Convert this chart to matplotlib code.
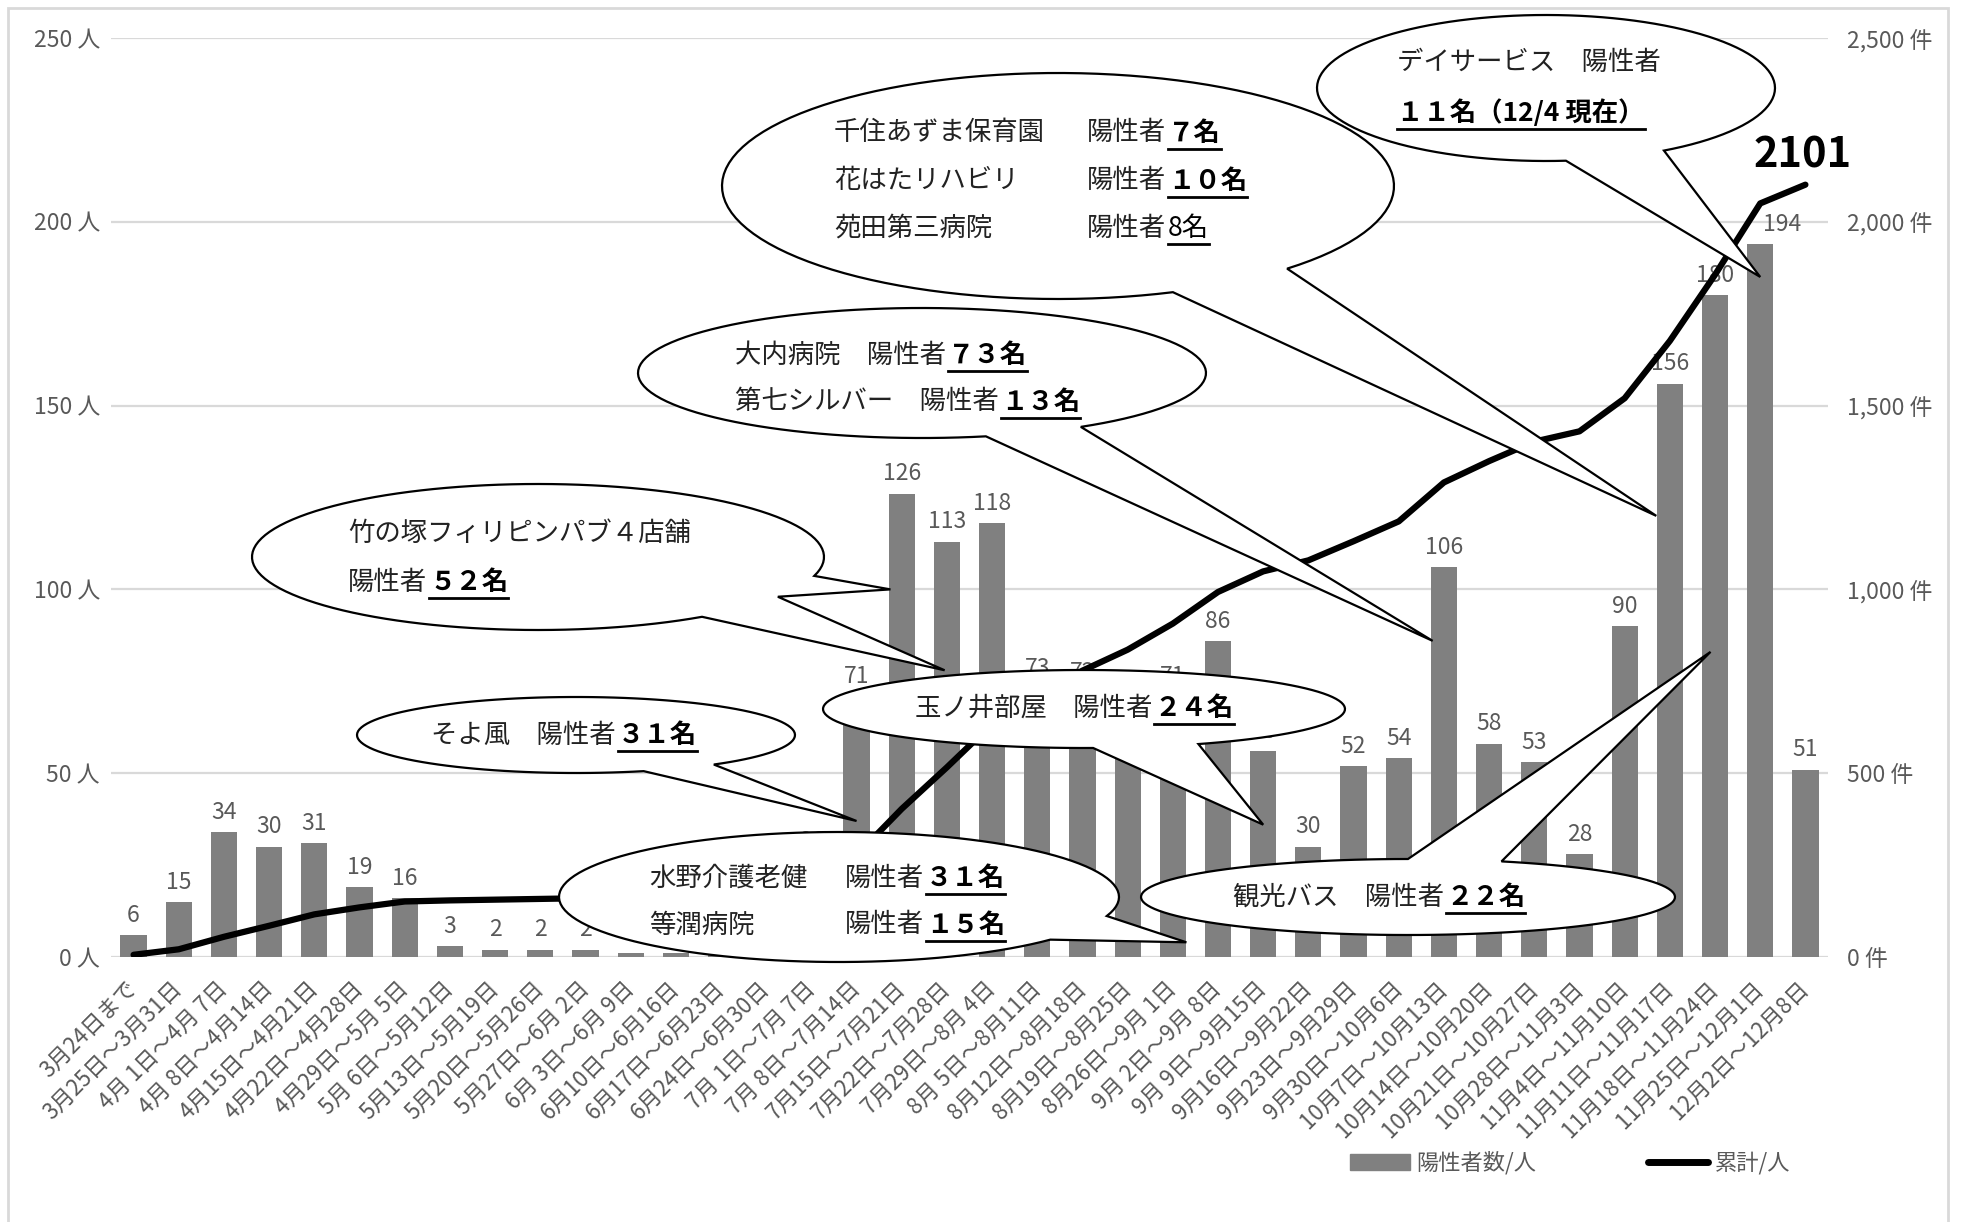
import numpy as np
import matplotlib.pyplot as plt
from matplotlib.patches import Polygon, Rectangle, Patch
from matplotlib.lines import Line2D

plt.rcParams['font.family'] = ['Noto Sans CJK JP', 'DejaVu Sans']

weeks = ['3月24日まで', '3月25日～3月31日', '4月 1日～4月 7日', '4月 8日～4月14日',
         '4月15日～4月21日', '4月22日～4月28日', '4月29日～5月 5日', '5月 6日～5月12日',
         '5月13日～5月19日', '5月20日～5月26日', '5月27日～6月 2日', '6月 3日～6月 9日',
         '6月10日～6月16日', '6月17日～6月23日', '6月24日～6月30日', '7月 1日～7月 7日',
         '7月 8日～7月14日', '7月15日～7月21日', '7月22日～7月28日', '7月29日～8月 4日',
         '8月 5日～8月11日', '8月12日～8月18日', '8月19日～8月25日', '8月26日～9月 1日',
         '9月 2日～9月 8日', '9月 9日～9月15日', '9月16日～9月22日', '9月23日～9月29日',
         '9月30日～10月6日', '10月7日～10月13日', '10月14日～10月20日', '10月21日～10月27日',
         '10月28日～11月3日', '11月4日～11月10日', '11月11日～11月17日', '11月18日～11月24日',
         '11月25日～12月1日', '12月2日～12月8日']
cases = [6, 15, 34, 30, 31, 19, 16, 3, 2, 2, 2, 1, 1, 6, 12, 26, 71, 126, 113, 118,
         73, 72, 57, 71, 86, 56, 30, 52, 54, 106, 58, 53, 28, 90, 156, 180, 194, 51]
total = [6, 21, 55, 85, 116, 135, 151, 154, 156, 158, 160, 161, 162, 168, 180, 206,
         277, 403, 516, 634, 707, 779, 836, 907, 993, 1049, 1079, 1131, 1185, 1291,
         1349, 1402, 1430, 1520, 1676, 1856, 2050, 2101]
left_ticks = [0, 50, 100, 150, 200, 250]
right_ticks = [0, 500, 1000, 1500, 2000, 2500]

GRAY = '#595959'
W, H = 1961, 1222
fig = plt.figure(figsize=(W / 100, H / 100), dpi=100)

# plot area in reference pixels
L, R, T, B = 111, 1828, 38, 957
ax = fig.add_axes([L / W, 1 - B / H, (R - L) / W, (B - T) / H])
x = np.arange(len(weeks))
ax.bar(x, cases, width=0.58, color='#808080', zorder=2)
ax.set_xlim(-0.5, len(weeks) - 0.5)
ax.set_ylim(0, 250)
ax.set_yticks(left_ticks)
ax.set_yticklabels([f'{v} 人' for v in left_ticks], color=GRAY, fontsize=16.5)
ax.yaxis.grid(True, color='#d9d9d9', lw=1.6)
ax.set_axisbelow(True)
for s in ax.spines.values():
    s.set_visible(False)
ax.tick_params(axis='y', length=0, pad=8)
ax.tick_params(axis='x', length=0, pad=20)
ax.set_xticks(x)
ax.set_xticklabels(weeks, rotation=45, ha='right', va='center', rotation_mode='anchor',
                   fontsize=16, color=GRAY)

for i, v in enumerate(cases):
    dx = 16 if i == len(cases) - 2 else 0  # label moved off the line
    ax.annotate(str(v), (i, v), xytext=(dx, 6), textcoords='offset points',
                ha='center', va='bottom', fontsize=16.5, color=GRAY)

ax2 = ax.twinx()
ax2.set_ylim(0, 2500)
ax2.set_yticks(right_ticks)
ax2.set_yticklabels([f'{v:,} 件' for v in right_ticks], color=GRAY, fontsize=16.5)
ax2.tick_params(axis='y', length=0, pad=14)
for s in ax2.spines.values():
    s.set_visible(False)
ax2.plot(x, total, color='black', lw=4.5, solid_joinstyle='round',
         solid_capstyle='round', zorder=3)
ax2.annotate(str(total[-1]), (x[-1], total[-1]), xytext=(-2, 21), textcoords='offset points',
             ha='center', va='center', fontsize=30, fontweight='bold', color='black')

fig.legend(handles=[Patch(color='#808080'),
                    Line2D([], [], color='black', lw=5, solid_capstyle='round')],
           labels=['陽性者数/人', '累計/人'], ncol=2, loc='center',
           bbox_to_anchor=(1570 / W, 1 - 1163 / H), frameon=False, fontsize=16,
           labelcolor=GRAY, handlelength=2.7, handletextpad=0.3, columnspacing=5.0)

fig.add_artist(Rectangle((8 / W, 1 - 1240 / H), 1940 / W, 1232 / H, fill=False,
                         edgecolor='#d9d9d9', lw=2, transform=fig.transFigure))

# speech bubbles (reference pixels, y downward)
renderer = fig.canvas.get_renderer()


def fpt(px, py):
    return px / W, 1 - py / H


def bubble(cx, cy, a, b, tails, lines, z):
    tails = sorted(tails)
    pts = []
    t_cur = tails[-1][1] - 360
    for s, e, ti, tv in tails:
        for t in np.radians(np.linspace(t_cur, s, 120)):
            pts.append(fpt(cx + a * np.cos(t), cy + b * np.sin(t)))
        dx, dy = ax.transData.transform((ti, tv))
        pts.append((dx / W, dy / H))
        t_cur = e
    fig.add_artist(Polygon(pts, closed=True, facecolor='white', edgecolor='black',
                           lw=1.6, transform=fig.transFigure, zorder=z))
    for ly, parts in lines:
        cur = None
        for px, txt, style in parts:
            xf = px / W if px is not None else cur
            t = fig.text(xf, 1 - ly / H, txt, ha='left', va='center', fontsize=19,
                         fontweight='bold' if style == 'b' else 'normal',
                         color='black' if style != 'n' else '#222222', zorder=z + 0.05)
            bb = t.get_window_extent(renderer)
            cur = (bb.x1 + 2) / W
            if style in ('b', 'u'):
                uy = (1 - (ly + 16) / H)
                fig.add_artist(Line2D([bb.x0 / W, bb.x1 / W], [uy, uy], color='black',
                                      lw=2, transform=fig.transFigure, zorder=z + 0.05))


bubble(1058, 186, 336, 113, [(47, 70, 34 - 0.3, 120)],
       [(133, [(834, '千住あずま保育園', 'n'), (1087, '陽性者', 'n'), (None, '７名', 'b')]),
        (181, [(834, '花はたリハビリ', 'n'), (1087, '陽性者', 'n'), (None, '１０名', 'b')]),
        (228, [(834, '苑田第三病院', 'n'), (1087, '陽性者', 'n'), (None, '8名', 'u')])], 5.0)
bubble(1546, 88, 229, 73, [(59, 85, 36, 185)],
       [(63, [(1397, 'デイサービス　陽性者', 'n')]),
        (113, [(1397, '１１名（12/4 現在）', 'b')])], 5.2)
bubble(922, 373, 284, 65, [(56, 77, 29 - 0.25, 86)],
       [(355, [(735, '大内病院　陽性者', 'n'), (None, '７３名', 'b')]),
        (402, [(735, '第七シルバー　陽性者', 'n'), (None, '１３名', 'b')])], 5.4)
bubble(538, 557, 286, 73, [(15, 33, 17 - 0.25, 100), (33, 55, 18 - 0.05, 78)],
       [(533, [(348, '竹の塚フィリピンパブ４店舗', 'n')]),
        (582, [(348, '陽性者', 'n'), (None, '５２名', 'b')])], 5.6)
bubble(576, 735, 219, 38, [(51, 72, 16, 37)],
       [(735, [(431, 'そよ風　陽性者', 'n'), (None, '３１名', 'b')])], 5.8)
bubble(1084, 709, 261, 39, [(64, 88, 25, 36)],
       [(708, [(915, '玉ノ井部屋　陽性者', 'n'), (None, '２４名', 'b')])], 6.0)
bubble(839, 897, 280, 65, [(17, 41, 23.3, 4)],
       [(878, [(649, '水野介護老健', 'n'), (845, '陽性者', 'n'), (None, '３１名', 'b')]),
        (925, [(649, '等潤病院', 'n'), (845, '陽性者', 'n'), (None, '１５名', 'b')])], 6.2)
bubble(1408, 897, 267, 38, [(-90, -69.5, 35 - 0.1, 83)],
       [(897, [(1233, '観光バス　陽性者', 'n'), (None, '２２名', 'b')])], 6.4)

fig.savefig('out.png', dpi=100)
